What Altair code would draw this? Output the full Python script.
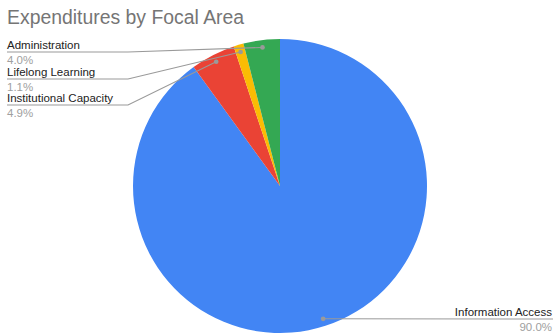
import math
import altair as alt
import pandas as pd

# ---- data ----
categories = ["Information Access", "Institutional Capacity", "Lifelong Learning", "Administration"]
shares = [90.0, 4.9, 1.1, 4.0]
colors = ["#4285F4", "#EA4335", "#FBBC04", "#34A853"]
pct_labels = ["90.0%", "4.9%", "1.1%", "4.0%"]
title_text = "Expenditures by Focal Area"

# ---- layout (pixels) ----
W, H = 553, 333
CX, CY, R = 280, 186, 147
DOT_R = 0.95 * R
label_side = ["right", "left", "left", "left"]
label_line_y = [319, 105, 79, 52]
LEFT_X, ELBOW_X, RIGHT_X = 7, 128, 552

total = sum(shares)
cum = 0.0
dots, lines, texts = [], [], []
for i, (cat, s) in enumerate(zip(categories, shares)):
    mid = (cum + s / 2) / total * 2 * math.pi
    cum += s
    dx = CX + DOT_R * math.sin(mid)
    dy = CY - DOT_R * math.cos(mid)
    dots.append({"cat": cat, "x": dx, "y": dy})
    ly = label_line_y[i]
    if label_side[i] == "left":
        pts = [(dx, dy), (ELBOW_X, ly), (LEFT_X, ly)]
        ax, al = LEFT_X, "left"
    else:
        pts = [(dx, dy), (W, ly)]
        ax, al = RIGHT_X, "right"
    for k, (px, py) in enumerate(pts):
        lines.append({"cat": cat, "k": k, "x": px, "y": py})
    texts.append({"cat": cat, "x": ax, "y": ly - 3.5, "t": cat, "side": al, "kind": "name"})
    texts.append({"cat": cat, "x": ax, "y": ly + 11.5, "t": pct_labels[i], "side": al, "kind": "pct"})

pie_df = pd.DataFrame({"cat": categories, "share": shares, "order": list(range(len(categories)))})
dots_df = pd.DataFrame(dots)
lines_df = pd.DataFrame(lines)
texts_df = pd.DataFrame(texts)

xs = alt.Scale(domain=[0, W])
ys = alt.Scale(domain=[H, 0])
FONT = "Liberation Sans"

pie = alt.Chart(pie_df).mark_arc(radius=R).encode(
    theta=alt.Theta("share:Q", stack=True),
    order=alt.Order("order:Q"),
    color=alt.Color("cat:N", scale=alt.Scale(domain=categories, range=colors), legend=None),
    x=alt.value(CX),
    y=alt.value(CY),
)

leader = alt.Chart(lines_df).mark_line(color="#9a9a9a", strokeWidth=1.1).encode(
    x=alt.X("x:Q", scale=xs, axis=None),
    y=alt.Y("y:Q", scale=ys, axis=None),
    detail="cat:N",
    order="k:Q",
)

dot = alt.Chart(dots_df).mark_circle(color="#9a9a9a", size=22, opacity=1).encode(
    x=alt.X("x:Q", scale=xs, axis=None),
    y=alt.Y("y:Q", scale=ys, axis=None),
)

def label_layer(kind, side, color):
    d = texts_df[(texts_df["kind"] == kind) & (texts_df["side"] == side)]
    return alt.Chart(d).mark_text(
        align=side, baseline="alphabetic", font=FONT, fontSize=11.5, color=color
    ).encode(
        x=alt.X("x:Q", scale=xs, axis=None),
        y=alt.Y("y:Q", scale=ys, axis=None),
        text="t:N",
    )

title_df = pd.DataFrame({"x": [7], "y": [23.5], "t": [title_text]})
title = alt.Chart(title_df).mark_text(
    align="left", baseline="alphabetic", font=FONT, fontSize=19.4, color="#757575"
).encode(
    x=alt.X("x:Q", scale=xs, axis=None),
    y=alt.Y("y:Q", scale=ys, axis=None),
    text="t:N",
)

chart = alt.layer(
    pie, leader, dot,
    label_layer("name", "left", "#222222"), label_layer("name", "right", "#222222"),
    label_layer("pct", "left", "#a0a0a0"), label_layer("pct", "right", "#a0a0a0"),
    title,
).resolve_scale(x="shared", y="shared").properties(
    width=W, height=H, padding=0, autosize=alt.AutoSizeParams(type="none")
).configure_view(stroke=None)

chart.save("out.html", embed_options={"renderer": "svg", "actions": False})
